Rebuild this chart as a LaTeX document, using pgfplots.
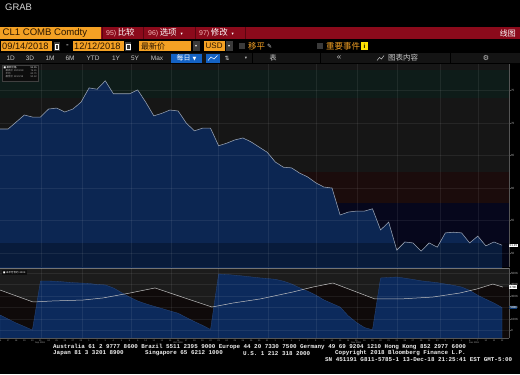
\documentclass[border=0pt]{standalone}
\usepackage{fontspec}
\setmainfont{Liberation Sans}
\newfontfamily\cjk{Noto Sans CJK SC}
\newfontfamily\sym{DejaVu Sans}
\newfontfamily\mono{Liberation Mono}
\usepackage{pgfplots}
\pgfplotsset{compat=1.18}
\usepackage{pgfplotstable}
\newcommand\fs[1]{\fontsize{#1}{#1}\selectfont}
\definecolor{orng}{HTML}{F4A124}
\definecolor{dtext}{HTML}{2B1600}
\definecolor{redbar}{HTML}{8B0A1B}
\definecolor{redsep}{HTML}{5A0510}
\definecolor{tabnum}{HTML}{F2B8B8}
\definecolor{rowbg}{HTML}{141414}
\definecolor{rowtxt}{HTML}{C9C9C9}
\definecolor{btnblue}{HTML}{1462C4}
\definecolor{iconbg}{HTML}{3A3A3A}
\definecolor{mainbg}{HTML}{161616}
\definecolor{bandgreen}{HTML}{0E1C19}
\definecolor{bandred}{HTML}{1B0C0C}
\definecolor{bandnavy}{HTML}{06071C}
\definecolor{fillblue}{HTML}{0C2652}
\definecolor{linegray}{HTML}{9AA4B4}
\definecolor{axgray}{HTML}{555555}
\definecolor{labgray}{HTML}{A8A8A8}
\definecolor{lowtop}{HTML}{1C1C1C}
\definecolor{lowbot}{HTML}{0F0A0A}
\definecolor{lowblue}{HTML}{0C2A5C}
\definecolor{lowedge}{HTML}{2A4A80}
\definecolor{wline}{HTML}{C0C0C0}
\definecolor{foot}{HTML}{F0F0F0}
\definecolor{grabc}{HTML}{D8D8D8}

\pgfplotstableread{
d p
0 69.08
1 69.08
2 70.15
3 71.23
4 70.92
5 70.92
6 72.15
7 72.30
8 71.70
9 72.15
10 73.20
11 75.40
12 75.20
13 76.50
14 74.50
15 74.50
16 74.50
17 75.10
18 73.20
19 71.10
20 71.50
21 72.00
22 71.85
23 70.00
24 68.80
25 69.20
26 69.20
27 66.50
28 66.90
29 67.40
30 67.70
31 67.10
32 66.30
33 65.50
34 64.00
35 63.20
36 63.10
37 62.30
38 61.70
39 60.80
40 60.15
41 60.00
42 55.85
43 56.30
44 56.45
45 56.45
46 56.80
47 53.55
48 54.75
49 50.45
50 51.70
51 51.55
52 50.30
53 51.55
54 50.90
55 53.10
56 53.20
57 53.10
58 51.55
59 52.60
60 51.10
61 51.70
62 51.20
}\pricedata

\pgfplotstableread{
d v
0 135
1 100
2 65
3 35
4 4
5 430
6 430
7 428
8 422
9 416
10 413
11 409
12 400
13 396
14 370
15 330
16 291
17 257
18 232
19 211
20 191
21 170
22 150
23 113
24 78
25 45
26 9
27 491
28 487
29 481
30 474
31 466
32 458
33 452
34 445
35 429
36 405
37 371
38 342
39 308
40 266
41 235
42 204
43 128
44 71
45 26
46 6
47 457
48 461
49 465
50 455
51 444
52 432
53 424
54 416
55 404
56 393
57 378
58 349
59 307
60 272
61 239
62 200
}\oidata

\pgfplotstableread{
d v
0 352
4.07 248
6.54 257
10.25 265
12.72 283
16.05 326
19.14 370
26.17 204
28.77 239
32.1 274
36.17 335
38.64 378
41.11 413
46.3 274
49.38 274
53.46 291
56.79 326
58.89 361
60.86 404
62.1 378
}\wdata

\begin{document}
\begin{tikzpicture}[x=1bp,y=1bp]
\useasboundingbox (0,0) rectangle (520,374);
\fill[black] (0,0) rectangle (520,374);
% title
\node[anchor=west,inner sep=0,text=grabc] at (5,367) {\fs{9.5}GRAB};
% red bar
\fill[redbar] (0,335) rectangle (520,347);
\fill[orng] (0,335) rectangle (101,347);
\node[anchor=west,inner sep=0,text=dtext] at (2.5,341) {\fs{9.6}CL1 COMB Comdty};
\foreach \xx in {102,143.5,195,245}{\draw[redsep,line width=0.8pt] (\xx,335)--(\xx,347);}
\node[anchor=west,inner sep=0] at (106,341) {\fs{7}\color{tabnum}95)\hspace{1.5bp}\cjk\fs{8.5}\color{white}比较};
\node[anchor=west,inner sep=0] at (148,341) {\fs{7}\color{tabnum}96)\hspace{1.5bp}\cjk\fs{8.5}\color{white}选项\hspace{4bp}\sym\fs{4.5}▾};
\node[anchor=west,inner sep=0] at (199,341) {\fs{7}\color{tabnum}97)\hspace{1.5bp}\cjk\fs{8.5}\color{white}修改\hspace{4bp}\sym\fs{4.5}▾};
\node[anchor=east,inner sep=0,text=white] at (516,341) {\cjk\fs{8}线图};
% row 2
\fill[orng] (1,323) rectangle (52,333);
\node[anchor=west,inner sep=0,text=dtext] at (2,328) {\fs{9.3}09/14/2018};
\fill[iconbg] (53.5,323.5) rectangle (59.5,332.5);
\draw[white,line width=0.4pt] (54.8,325) rectangle (58.2,330);
\node[text=white,inner sep=0] at (67.5,328) {\fs{8}-};
\fill[orng] (73,323) rectangle (124,333);
\node[anchor=west,inner sep=0,text=dtext] at (74,328) {\fs{9.3}12/12/2018};
\fill[iconbg] (125,323.5) rectangle (131,332.5);
\draw[white,line width=0.4pt] (126.3,325) rectangle (129.7,330);
\fill[orng] (139,323) rectangle (191,333);
\node[anchor=west,inner sep=0,text=dtext] at (141,328) {\cjk\fs{8}最新价};
\fill[iconbg] (193,323) rectangle (199.5,333);
\node[inner sep=0,text=white] at (196.2,328) {\sym\fs{4}▾};
\fill[orng] (204,323) rectangle (225,333);
\node[anchor=west,inner sep=0,text=dtext] at (205.5,328) {\fs{8}USD};
\fill[iconbg] (226,323) rectangle (232.5,333);
\node[inner sep=0,text=white] at (229.2,328) {\sym\fs{4}▾};
\fill[iconbg] (239,325) rectangle (245,331);
\node[anchor=west,inner sep=0,text=orng] at (248,328) {\cjk\fs{8.5}移平};
\node[anchor=west,inner sep=0,text=rowtxt] at (267,328) {\sym\fs{6}✎};
\fill[iconbg] (317,325) rectangle (323,331);
\node[anchor=west,inner sep=0,text=orng] at (326,328) {\cjk\fs{8.5}重要事件};
\fill[yellow!85!orange] (361,324) rectangle (368,332);
\node[inner sep=0,text=black] at (364.5,328) {\fs{6}\bfseries i};
% row 3
\fill[rowbg] (0,311) rectangle (520,321);
\foreach \xx in {252,320,450}{\draw[black,line width=0.6pt] (\xx,311)--(\xx,321);}
\foreach \lab/\xx in {1D/10.7,3D/30,1M/50,6M/70,YTD/93,1Y/116,5Y/135,Max/157}{
  \node[inner sep=0,text=rowtxt] at (\xx,316) {\fs{6.5}\lab};}
\fill[btnblue] (171,311.5) rectangle (202,320.5);
\node[inner sep=0,text=white] at (186.5,316) {\cjk\fs{7}每日\hspace{2bp}\sym\fs{5}▼};
\fill[btnblue] (206,311.5) rectangle (219.5,320.5);
\draw[white,line width=0.5pt] (208,313.5)--(211,317)--(214,315)--(217.5,318.5);
\node[inner sep=0,text=rowtxt] at (227,316) {\sym\fs{6}⇅};
\node[inner sep=0,text=rowtxt] at (246,316) {\sym\fs{4.5}▾};
\node[inner sep=0,text=rowtxt] at (273,316) {\cjk\fs{7}表};
\node[inner sep=0,text=rowtxt] at (339,316) {\fs{8}«};
\draw[rowtxt,line width=0.5pt] (377,313.5)--(379.5,316.5)--(381.5,315)--(384,318.5);
\node[anchor=west,inner sep=0,text=rowtxt] at (388,316) {\cjk\fs{7.5}图表内容};
\node[inner sep=0,text=rowtxt] at (486,316) {\sym\fs{7}⚙};

% ---------- main price panel ----------
\begin{axis}[
 at={(0bp,107bp)}, anchor=south west, scale only axis,
 width=509bp, height=203bp,
 xmin=0, xmax=62.86, ymin=47.85, ymax=79.08,
 axis on top, clip mode=individual,
 axis background/.style={fill=mainbg},
 axis line style={draw=none},
 xtick={5.06,10.1,16.2,21.1,27,33.1,39.1,44.1,49.1,54.3,59.1},
 xticklabels={}, xtick style={draw=none},
 ytick={50,55,60,65,70,75},
 yticklabels={50,55,60,65,70,75},
 ytick pos=right, yticklabel pos=right,
 ytick style={draw=axgray,line width=0.3pt},
 major tick length=1.5bp, tick align=outside,
 yticklabel style={font=\fs{3}, text=labgray, inner sep=0.3bp},
 grid=major, grid style={draw=white, opacity=0.07, line width=0.4pt},
 /pgf/number format/assume math mode=true,
]
\fill[bandgreen] (axis cs:0,73.85) rectangle (axis cs:62.86,78.15);
\fill[bandred] (axis cs:0,57.69) rectangle (axis cs:62.86,62.46);
\fill[bandnavy] (axis cs:0,47.85) rectangle (axis cs:62.86,57.69);
\addplot[fill=fillblue, draw=none] table[x=d,y=p] {\pricedata} -- (axis cs:62,40) -- (axis cs:0,40) -- cycle;
\fill[black,opacity=0.28] (axis cs:0,47.85) rectangle (axis cs:62.86,51.54);
\addplot[draw=linegray, line width=0.55pt] table[x=d,y=p] {\pricedata};
\draw[axgray,line width=0.5pt] (rel axis cs:1,0) -- (rel axis cs:1,1);
\node[fill=white,text=black,inner sep=0.5bp,anchor=west,font=\fs{3}] at (axis cs:62.86,51.2) {51.15};
\end{axis}

% legend box of the main panel
\fill[black!95!white] (2,293) rectangle (38,309);
\draw[black!75!white,line width=0.3pt] (2,293) rectangle (38,309);
\node[anchor=west,inner sep=0,text=white] at (3.5,306.6) {\sym\fs{2.6}■\hspace{0.6bp}\cjk\fs{2.5}最新价格};
\node[anchor=east,inner sep=0,text=white] at (37,306.6) {\fs{2.5}51.15};
\node[anchor=west,inner sep=0,text=labgray] at (5.5,303.4) {\cjk\fs{2.5}最高价\hspace{0.6bp}\rmfamily 10/03/18};
\node[anchor=east,inner sep=0,text=labgray] at (37,303.4) {\fs{2.5}76.41};
\node[anchor=west,inner sep=0,text=labgray] at (5.5,300.2) {\cjk\fs{2.5}平均};
\node[anchor=east,inner sep=0,text=labgray] at (37,300.2) {\fs{2.5}62.71};
\node[anchor=west,inner sep=0,text=labgray] at (5.5,297) {\cjk\fs{2.5}最低价\hspace{0.6bp}\rmfamily 11/23/18};
\node[anchor=east,inner sep=0,text=labgray] at (37,297) {\fs{2.5}50.42};

% ---------- lower panel ----------
\begin{axis}[
 at={(0bp,36bp)}, anchor=south west, scale only axis,
 width=509bp, height=70bp,
 xmin=0, xmax=62.86, ymin=-65.2, ymax=543.5,
 axis on top, clip mode=individual,
 axis background/.style={fill=lowbot},
 axis line style={draw=none},
 xtick={5.06,10.1,16.2,21.1,27,33.1,39.1,44.1,49.1,54.3,59.1},
 xticklabels={}, xtick style={draw=none},
 extra x ticks={0,1,...,62},
 extra x tick labels={14,17,18,19,20,21,24,25,26,27,28,1,2,3,4,5,8,9,10,11,12,15,16,17,18,19,22,23,24,25,26,29,30,31,1,2,5,6,7,8,9,12,13,14,15,16,19,20,21,23,26,27,28,29,30,3,4,5,6,7,10,11,12},
 extra x tick style={grid=none, major tick length=1bp, tick align=outside, tick style={draw=axgray,line width=0.2pt}},
 xticklabel style={font=\fs{2.3}, text=labgray, inner sep=0.3bp},
 ytick={0,100,200,300,400,500},
 yticklabels={0,100K,200K,300K,400K,500K},
 ytick pos=right, yticklabel pos=right,
 ytick style={draw=axgray,line width=0.3pt},
 major tick length=1.5bp, tick align=outside,
 yticklabel style={font=\fs{3}, text=labgray, inner sep=0.3bp},
 grid=major, grid style={draw=white, opacity=0.07, line width=0.4pt},
 /pgf/number format/assume math mode=true,
]
\addplot[fill=lowtop, draw=none] table[x=d,y=v] {\wdata} -- (axis cs:62.86,378) -- (axis cs:62.86,600) -- (axis cs:0,600) -- cycle;
\addplot[fill=lowblue, draw=lowedge, line width=0.3pt] table[x=d,y=v] {\oidata} -- (axis cs:62,-80) -- (axis cs:0,-80) -- cycle;
\addplot[draw=wline, line width=0.5pt] table[x=d,y=v] {\wdata};
\draw[black!55!white,line width=0.6pt] (rel axis cs:0,1) -- (rel axis cs:1,1);
\draw[axgray,line width=0.5pt] (rel axis cs:1,0) -- (rel axis cs:1,1);
\draw[axgray,line width=0.5pt] (rel axis cs:0,0) -- (rel axis cs:1,0);
\node[fill=white,text=black,inner sep=0.5bp,anchor=west,font=\fs{3}] at (axis cs:62.86,378) {378K};
\node[fill=btnblue!60!black,text=white,inner sep=0.5bp,anchor=west,font=\fs{3}] at (axis cs:62.86,200) {200K};
\end{axis}
\foreach \mx/\ml in {40/Sep 2018,178/Oct 2018,356/Nov 2018,474/Dec 2018}{
  \node[inner sep=0,text=labgray,font=\fs{2.3}] at (\mx,31.5) {\ml};}
\fill[black!95!white] (2,99) rectangle (27,104);
\node[anchor=west,inner sep=0,text=white] at (3,101.5) {\sym\fs{2.5}■\hspace{0.6bp}\cjk\fs{2.5}未平仓合约\hspace{1bp}\rmfamily 200K};

% footer
\node[anchor=west,inner sep=0,text=foot] at (53,27.3) {\mono\bfseries\fs{5.9}Australia 61 2 9777 8600 Brazil 5511 2395 9000 Europe 44 20 7330 7500 Germany 49 69 9204 1210 Hong Kong 852 2977 6000};
\node[anchor=west,inner sep=0,text=foot] at (53,20.8) {\mono\bfseries\fs{5.9}Japan 81 3 3201 8900};
\node[anchor=west,inner sep=0,text=foot] at (145,20.8) {\mono\bfseries\fs{5.9}Singapore 65 6212 1000};
\node[anchor=west,inner sep=0,text=foot] at (243,20.8) {\mono\bfseries\fs{5.9}U.S. 1 212 318 2000};
\node[anchor=west,inner sep=0,text=foot] at (335,20.8) {\mono\bfseries\fs{5.9}Copyright 2018 Bloomberg Finance L.P.};
\node[anchor=west,inner sep=0,text=foot] at (325,14.5) {\mono\bfseries\fs{5.9}SN 451191 G811-5785-1 13-Dec-18 21:25:41 EST  GMT-5:00};
\end{tikzpicture}
\end{document}
